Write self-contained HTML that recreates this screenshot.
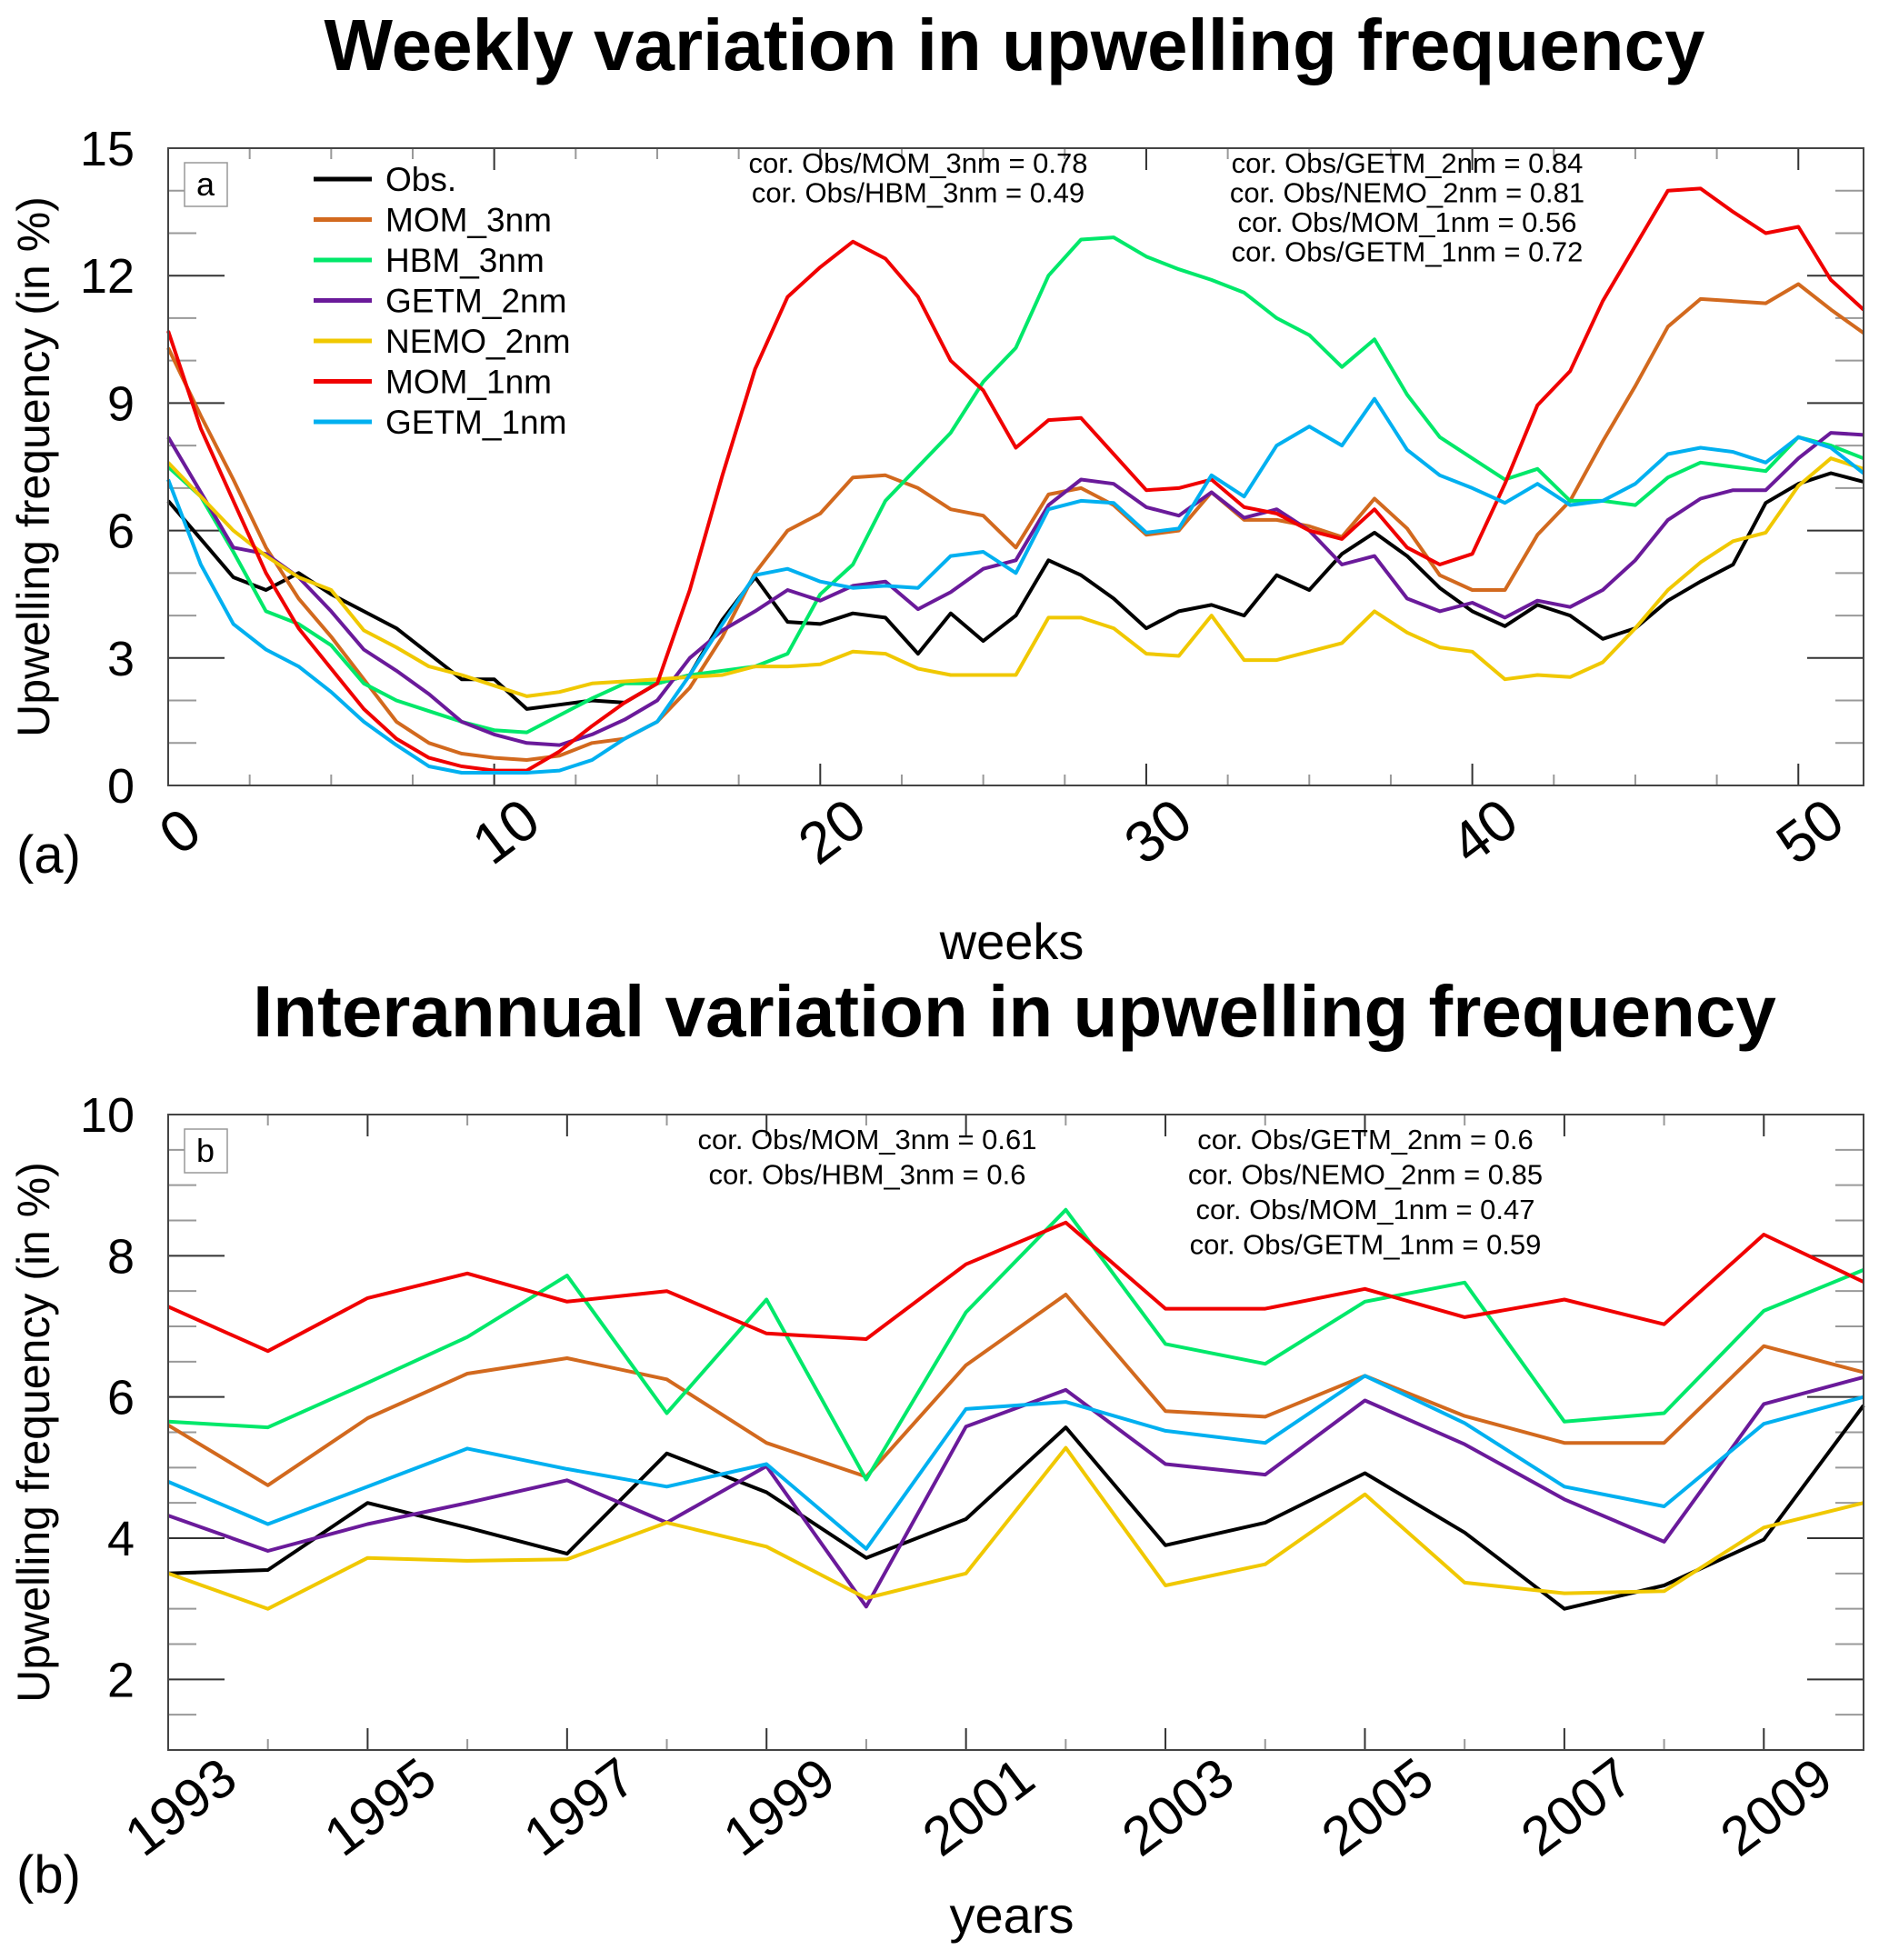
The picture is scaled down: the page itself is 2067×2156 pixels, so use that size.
<!DOCTYPE html>
<html><head><meta charset="utf-8"><style>
html,body{margin:0;padding:0;background:#fff}
svg{display:block;font-family:"Liberation Sans",sans-serif}
</style></head><body>
<svg id="chart" width="2067" height="2156" viewBox="0 0 2067 2156">
<text x="1116" y="77" font-size="80" font-weight="bold" text-anchor="middle">Weekly variation in upwelling frequency</text>
<text x="1116" y="1140" font-size="80" font-weight="bold" text-anchor="middle">Interannual variation in upwelling frequency</text>
<g id="pa"></g>
<g id="pb"></g>
</svg>
<script>
const seriesNames = ["Obs.","MOM_3nm","HBM_3nm","GETM_2nm","NEMO_2nm","MOM_1nm","GETM_1nm"];
const seriesColors = ["#000000","#d2691e","#00e86a","#6a1a9a","#f0c800","#f00000","#00b0f0"];
const weeks = Array.from({length:53},(_,i)=>i);
const wObs = [6.7,5.8,4.9,4.6,5.0,4.5,4.1,3.7,3.1,2.5,2.5,1.8,1.9,2.0,1.95,2.4,2.6,3.9,4.9,3.85,3.8,4.05,3.95,3.1,4.05,3.4,4.0,5.3,4.95,4.4,3.7,4.1,4.25,4.0,4.95,4.6,5.45,5.95,5.4,4.65,4.1,3.75,4.25,4.0,3.45,3.7,4.35,4.8,5.2,6.65,7.1,7.35,7.15];
const wMOM3 = [10.3,8.7,7.2,5.6,4.4,3.5,2.5,1.5,1.0,0.75,0.65,0.6,0.7,1.0,1.1,1.5,2.3,3.5,5.0,6.0,6.4,7.25,7.3,7.0,6.5,6.35,5.6,6.85,7.0,6.6,5.9,6.0,6.9,6.25,6.25,6.1,5.85,6.75,6.05,4.95,4.6,4.6,5.9,6.7,8.1,9.4,10.8,11.45,11.4,11.35,11.8,11.2,10.65];
const wHBM3 = [7.5,6.8,5.5,4.1,3.8,3.3,2.4,2.0,1.75,1.5,1.3,1.25,1.65,2.05,2.4,2.4,2.6,2.7,2.8,3.1,4.5,5.2,6.7,7.5,8.3,9.5,10.3,12.0,12.85,12.9,12.45,12.15,11.9,11.6,11.0,10.6,9.85,10.5,9.2,8.2,7.7,7.2,7.45,6.7,6.7,6.6,7.25,7.6,7.5,7.4,8.2,8.0,7.7];
const wGETM2 = [8.2,6.9,5.6,5.45,4.9,4.1,3.2,2.7,2.15,1.5,1.2,1.0,0.95,1.2,1.55,2.0,3.0,3.65,4.1,4.6,4.35,4.7,4.8,4.15,4.55,5.1,5.3,6.6,7.2,7.1,6.55,6.35,6.9,6.3,6.5,6.0,5.2,5.4,4.4,4.1,4.3,3.95,4.35,4.2,4.6,5.3,6.25,6.75,6.95,6.95,7.7,8.3,8.25];
const wNEMO2 = [7.6,6.8,6.0,5.4,4.9,4.6,3.65,3.25,2.8,2.6,2.35,2.1,2.2,2.4,2.45,2.5,2.55,2.6,2.8,2.8,2.85,3.15,3.1,2.75,2.6,2.6,2.6,3.95,3.95,3.7,3.1,3.05,4.0,2.95,2.95,3.15,3.35,4.1,3.6,3.25,3.15,2.5,2.6,2.55,2.9,3.7,4.6,5.25,5.75,5.95,7.05,7.7,7.45];
const wMOM1 = [10.7,8.4,6.7,5.0,3.7,2.75,1.8,1.1,0.65,0.45,0.35,0.35,0.8,1.4,1.95,2.4,4.6,7.3,9.8,11.5,12.2,12.8,12.4,11.5,10.0,9.3,7.95,8.6,8.65,7.8,6.95,7.0,7.2,6.55,6.4,6.0,5.8,6.5,5.6,5.2,5.45,7.1,8.95,9.75,11.4,12.7,14.0,14.05,13.5,13.0,13.15,11.9,11.2];
const wGETM1 = [7.2,5.2,3.8,3.2,2.8,2.2,1.5,0.95,0.45,0.3,0.3,0.3,0.35,0.6,1.1,1.5,2.6,3.8,4.95,5.1,4.8,4.65,4.7,4.65,5.4,5.5,5.0,6.5,6.7,6.65,5.95,6.05,7.3,6.8,8.0,8.45,8.0,9.1,7.9,7.3,7.0,6.65,7.1,6.6,6.7,7.1,7.8,7.95,7.85,7.6,8.2,7.95,7.35];
const years = [1993,1994,1995,1996,1997,1998,1999,2000,2001,2002,2003,2004,2005,2006,2007,2008,2009,2010];
const yObs = [3.5,3.55,4.5,4.15,3.78,5.2,4.65,3.72,4.27,5.57,3.9,4.22,4.92,4.08,3.0,3.33,3.98,5.88];
const yMOM3 = [5.6,4.75,5.7,6.33,6.55,6.25,5.35,4.87,6.45,7.45,5.8,5.72,6.3,5.73,5.35,5.35,6.72,6.35];
const yHBM3 = [5.65,5.57,6.2,6.85,7.72,5.77,7.38,4.83,7.2,8.65,6.75,6.47,7.35,7.62,5.65,5.77,7.22,7.8];
const yGETM2 = [4.32,3.82,4.2,4.5,4.82,4.22,5.02,3.03,5.58,6.1,5.05,4.9,5.95,5.33,4.55,3.95,5.9,6.28];
const yNEMO2 = [3.5,3.0,3.72,3.68,3.7,4.22,3.88,3.15,3.5,5.28,3.33,3.63,4.62,3.37,3.22,3.25,4.15,4.5];
const yMOM1 = [7.28,6.65,7.4,7.75,7.35,7.5,6.9,6.82,7.88,8.47,7.25,7.25,7.53,7.13,7.38,7.03,8.3,7.63];
const yGETM1 = [4.8,4.2,4.73,5.27,4.98,4.73,5.05,3.85,5.83,5.93,5.52,5.35,6.3,5.63,4.73,4.45,5.62,6.0];
const aYTicks = [0,3,6,9,12,15];
const aXTicks = [0,10,20,30,40,50];
const bYTicks = [2,4,6,8,10];
const bXTicks = [1993,1995,1997,1999,2001,2003,2005,2007,2009];
const corA1 = ["cor. Obs/MOM_3nm = 0.78","cor. Obs/HBM_3nm = 0.49"];
const corA2 = ["cor. Obs/GETM_2nm = 0.84","cor. Obs/NEMO_2nm = 0.81","cor. Obs/MOM_1nm = 0.56","cor. Obs/GETM_1nm = 0.72"];
const corB1 = ["cor. Obs/MOM_3nm = 0.61","cor. Obs/HBM_3nm = 0.6"];
const corB2 = ["cor. Obs/GETM_2nm = 0.6","cor. Obs/NEMO_2nm = 0.85","cor. Obs/MOM_1nm = 0.47","cor. Obs/GETM_1nm = 0.59"];

const NS="http://www.w3.org/2000/svg";
function mk(parent,tag,attrs,txt){const e=document.createElementNS(NS,tag);for(const k in attrs)e.setAttribute(k,attrs[k]);if(txt!==undefined)e.textContent=txt;parent.appendChild(e);return e;}

function panel(g,cfg){
  const L=185,R=2050,T=cfg.top,B=cfg.bottom;
  const sx=v=>L+(v-cfg.xmin)/(cfg.xmax-cfg.xmin)*(R-L);
  const sy=v=>B-(v-cfg.ymin)/(cfg.ymax-cfg.ymin)*(B-T);
  for(let v=cfg.ymin;v<=cfg.ymax+1e-6;v+=cfg.yminor){
    const maj=cfg.yticks.some(t=>Math.abs(t-v)<1e-6);const len=maj?62:31;const c=maj?"#333":"#999";
    const t1=mk(g,"line",{x1:L,x2:L+len,y1:sy(v),y2:sy(v),stroke:c,"stroke-width":2});
    
    
    const t2=mk(g,"line",{x1:R,x2:R-len,y1:sy(v),y2:sy(v),stroke:c,"stroke-width":2});
    
    
  }
  for(let v=cfg.xmin;v<=cfg.xmax+1e-6;v+=cfg.xminor){
    const maj=cfg.xticks.some(t=>Math.abs(t-v)<1e-6);const len=maj?24:12;const c=maj?"#333":"#999";
    const t1=mk(g,"line",{x1:sx(v),x2:sx(v),y1:B,y2:B-len,stroke:c,"stroke-width":2});
    
    
    const t2=mk(g,"line",{x1:sx(v),x2:sx(v),y1:T,y2:T+len,stroke:c,"stroke-width":2});
    
    
  }
  cfg.yticks.forEach(v=>{
    const t=mk(g,"text",{x:148,y:sy(v)+19,"font-size":54,"text-anchor":"end"},v);
    
    
  });
  cfg.xticks.forEach(v=>{
    const cx=sx(v)+14,cy=cfg.xlabY;
    const t=mk(g,"text",{x:cx,y:cy+20,"font-size":cfg.xfs,"text-anchor":"middle",transform:`rotate(-37 ${cx} ${cy})`},v);
    
    
  });
  cfg.series.forEach((arr,i)=>{
    const pts=arr.map((v,j)=>sx(cfg.x[j]).toFixed(1)+","+sy(v).toFixed(1)).join(" ");
    const p=mk(g,"polyline",{points:pts,fill:"none",stroke:seriesColors[i],"stroke-width":4,"stroke-linejoin":"round"});
    
    
  });
  const fr=mk(g,"rect",{x:L,y:T,width:R-L,height:B-T,fill:"none",stroke:"#444","stroke-width":2});
  
  
  const bx=mk(g,"rect",{x:203,y:T+16,width:47,height:48,fill:"#fff",stroke:"#999","stroke-width":1.5});
  
  
  const bl=mk(g,"text",{x:226,y:T+52,"font-size":36,"text-anchor":"middle"},cfg.letter);
  
  
  const yt=mk(g,"text",{x:54,y:(T+B)/2,"font-size":50,"text-anchor":"middle",transform:`rotate(-90 54 ${(T+B)/2})`},"Upwelling frequency (in %)");
  
  
  const xt=mk(g,"text",{x:1113,y:cfg.xtitleY,"font-size":56,"text-anchor":"middle"},cfg.xtitle);
  
  
  const pl=mk(g,"text",{x:18,y:cfg.plY,"font-size":58},cfg.plabel);
  
  
  cfg.cor1.forEach((s,i)=>{const t=mk(g,"text",{x:cfg.c1x,y:T+cfg.cy0+i*cfg.cdy,"font-size":31,"text-anchor":"middle"},s);
    
    });
  cfg.cor2.forEach((s,i)=>{const t=mk(g,"text",{x:cfg.c2x,y:T+cfg.cy0+i*cfg.cdy,"font-size":31,"text-anchor":"middle"},s);
    
    });
}

const ga=document.getElementById("pa"), gb=document.getElementById("pb");
panel(ga,{top:163,bottom:864,xmin:0,xmax:52,ymin:0,ymax:15,xminor:2.5,yminor:1,xticks:aXTicks,yticks:aYTicks,x:weeks,
  series:[wObs,wMOM3,wHBM3,wGETM2,wNEMO2,wMOM1,wGETM1],letter:"a",xtitle:"weeks",xtitleY:1055,plabel:"(a)",plY:960,xlabY:916,xfs:64,
  cor1:corA1,cor2:corA2,c1x:1010,c2x:1548,cy0:27,cdy:32.5});
panel(gb,{top:1226,bottom:1925,xmin:1993,xmax:2010,ymin:1,ymax:10,xminor:1,yminor:0.5,xticks:bXTicks,yticks:bYTicks,x:years,
  series:[yObs,yMOM3,yHBM3,yGETM2,yNEMO2,yMOM1,yGETM1],letter:"b",xtitle:"years",xtitleY:2126,plabel:"(b)",plY:2082,xlabY:1988,xfs:60,
  cor1:corB1,cor2:corB2,c1x:954,c2x:1502,cy0:38,cdy:38.5});
const lg=mk(ga,"g",{});


seriesNames.forEach((n,i)=>{
  const y=197+i*44.5;
  const l=mk(lg,"line",{x1:345,x2:409,y1:y,y2:y,stroke:seriesColors[i],"stroke-width":5});
  
  
  const t=mk(lg,"text",{x:424,y:y+13,"font-size":37},n);
  
  
});
</script>
</body></html>
